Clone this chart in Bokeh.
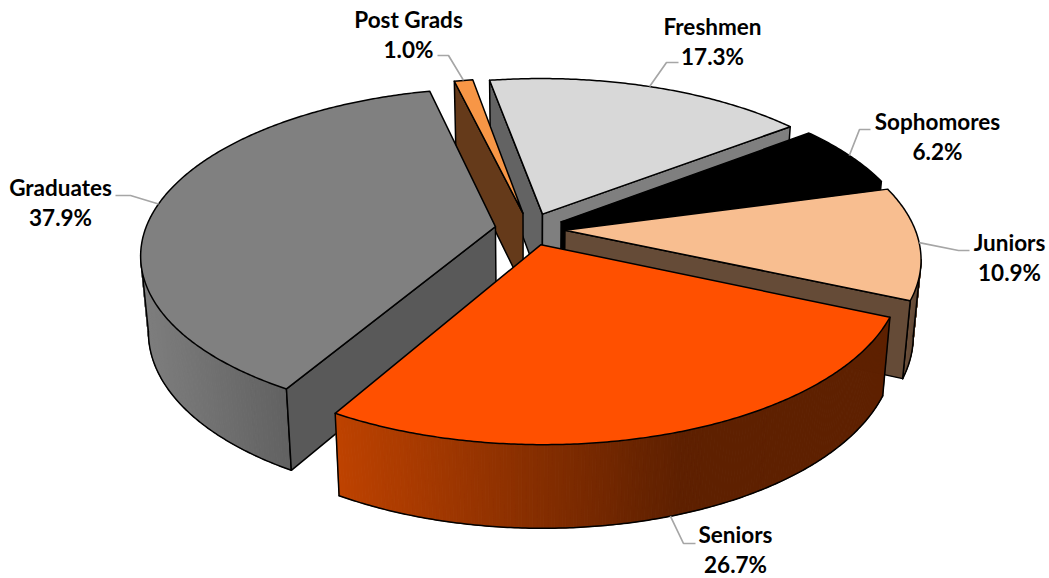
import numpy as np
from bokeh.core.properties import value
from bokeh.embed import file_html
from bokeh.models import Range1d
from bokeh.plotting import figure
from bokeh.resources import INLINE

# ---- data ----
categories = ["Freshmen", "Sophomores", "Juniors", "Seniors", "Graduates", "Post Grads"]
shares = [17.3, 6.2, 10.9, 26.7, 37.9, 1.0]
share_labels = ["17.3%", "6.2%", "10.9%", "26.7%", "37.9%", "1.0%"]

# ---- styles ----
top_colors = ["#D8D8D8", "#000000", "#F8BE90", "#FF5000", "#808080", "#F79646"]
rim_left = ["#7F7F7F", "#000000", "#6C503B", "#BE4200", "#7E7E7E", "#653A1A"]
rim_right = ["#7F7F7F", "#000000", "#5E4634", "#5E2000", "#616161", "#653A1A"]
rim_ramp = [1, 1, 1, 0.62, 1, 1]
start_face = ["#636363", "#000000", "#654B37", "#5E2000", "#595959", "#653A1A"]
end_face = ["#7F7F7F", "#000000", "#654B37", "#5E2000", "#595959", "#653A1A"]
paint_order = [0, 1, 2, 5, 4, 3]

# ---- projection of the pie ----
FIRST_ANGLE = 260.1
CX, CY = 529.5, 228.5
A, B, K = 350.0, 162.0, 0.162
EXPLODE = 0.10
X_SHRINK, Y_GROW, DROP = 0.98, 1.04, 75.0
WIDTH, HEIGHT = 1049, 578

# ---- label layout: label centre x, first line centre y, elbow x, elbow y, label-side x ----
label_layout = {
    "Freshmen": (712, 26, 666, 62, 678),
    "Sophomores": (937, 121, 859, 129, 870),
    "Juniors": (1009, 242, 958, 250, 969),
    "Seniors": (735, 534, 683, 543, 695),
    "Graduates": (60, 187, 130, 195, 115),
    "Post Grads": (408, 19, 448, 55, 437),
}
LINE_GAP = 29.5


def project(u, v):
    s = 1.0 / (1.0 - K * v)
    return CX + A * u * s, CY + B * v * s


def lower(x, y):
    return CX + X_SHRINK * (x - CX), CY + DROP + Y_GROW * (y - CY)


def blend(c1, c2, t):
    a = [int(c1[i:i + 2], 16) for i in (1, 3, 5)]
    b = [int(c2[i:i + 2], 16) for i in (1, 3, 5)]
    return "#%02X%02X%02X" % tuple(int(round(a[i] + (b[i] - a[i]) * t)) for i in range(3))


p = figure(width=WIDTH, height=HEIGHT, output_backend="svg", toolbar_location=None,
           x_range=Range1d(0, WIDTH), y_range=Range1d(HEIGHT, 0),
           x_axis_location=None, y_axis_location=None, min_border=0,
           outline_line_color=None, background_fill_color="white")
p.grid.visible = False

fractions = np.array(shares) / sum(shares)
starts = np.radians(FIRST_ANGLE + 360 * np.concatenate([[0], np.cumsum(fractions)[:-1]]))
ends = starts + 2 * np.pi * fractions
mids = (starts + ends) / 2

OUT = dict(line_color="black", line_width=1.5, line_join="round", line_cap="round")

for i in paint_order:
    u0, v0 = EXPLODE * np.cos(mids[i]), EXPLODE * np.sin(mids[i])
    n = max(3, int(np.degrees(ends[i] - starts[i]) * 2))
    th = np.linspace(starts[i], ends[i], n)
    tx, ty = project(u0 + np.cos(th), v0 + np.sin(th))
    bx, by = lower(tx, ty)
    cx_, cy_ = project(u0, v0)
    cbx, cby = lower(cx_, cy_)

    # rim wall: only the segments turned toward the viewer, shaded left to right
    front = [j for j in range(n - 1) if bx[j + 1] < bx[j]]
    if front:
        x_lo, x_hi = tx[front[-1] + 1], tx[front[0]]
        xs, ys, cols = [], [], []
        for j in front:
            xs.append([tx[j], tx[j + 1], bx[j + 1], bx[j]])
            ys.append([ty[j], ty[j + 1], by[j + 1], by[j]])
            t = ((tx[j] + tx[j + 1]) / 2 - x_lo) / max(1.0, x_hi - x_lo) / rim_ramp[i]
            cols.append(blend(rim_left[i], rim_right[i], min(1, t)))
        p.patches(xs, ys, fill_color=cols, line_color=cols, line_width=1)
        f0, f1 = front[0], front[-1] + 1
        p.line(list(bx[f0:f1 + 1]), list(by[f0:f1 + 1]), **OUT)
        # silhouette / end edges of the visible wall
        p.line([tx[f0], bx[f0]], [ty[f0], by[f0]], **OUT)
        p.line([tx[f1], bx[f1]], [ty[f1], by[f1]], **OUT)

    # cut faces, only those turned toward the viewer
    if tx[0] < cx_:
        p.patches([[cx_, tx[0], bx[0], cbx]], [[cy_, ty[0], by[0], cby]],
                  fill_color=start_face[i], **OUT)
    if tx[-1] > cx_:
        p.patches([[cx_, tx[-1], bx[-1], cbx]], [[cy_, ty[-1], by[-1], cby]],
                  fill_color=end_face[i], **OUT)

    # top
    p.patches([[cx_] + list(tx)], [[cy_] + list(ty)], fill_color=top_colors[i], **OUT)

# leader lines and labels
for i, name in enumerate(categories):
    lx, ly, ex, ey, sx = label_layout[name]
    u0, v0 = (1 + EXPLODE) * np.cos(mids[i]), (1 + EXPLODE) * np.sin(mids[i])
    ax, ay = project(u0, v0)
    if np.sin(mids[i]) > 0.3:
        ax, ay = lower(ax, ay)
    p.line([sx, ex, ax], [ey, ey, ay], line_color="#A6A6A6", line_width=1.7)
    p.text([lx, lx], [ly, ly + LINE_GAP], text=[name, share_labels[i]],
           text_font=value("Lato"), text_font_style="bold", text_font_size="22.5px",
           text_align="center", text_baseline="middle", text_color="black")

open("out.html", "w").write(file_html(p, INLINE))
